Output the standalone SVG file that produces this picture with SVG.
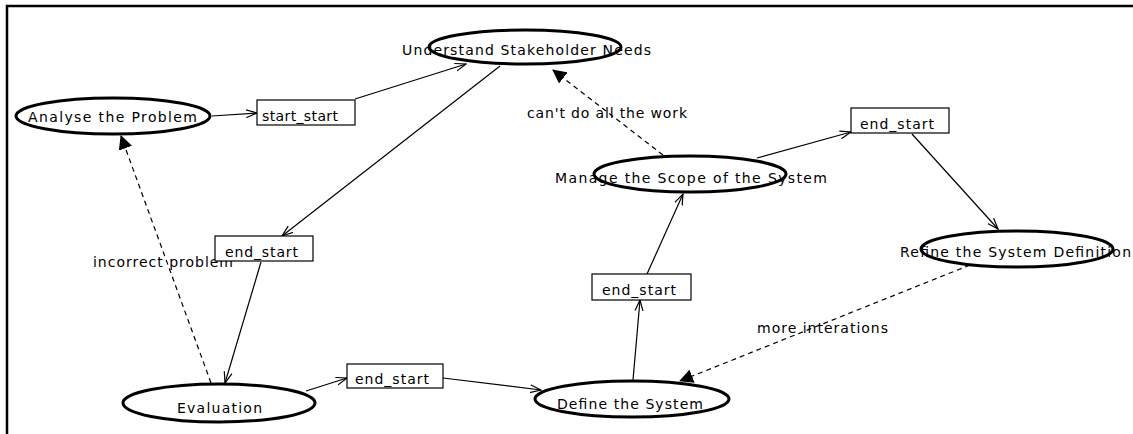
<svg xmlns="http://www.w3.org/2000/svg" width="1133" height="434" viewBox="0 0 1133 434">
  <style>
    text { font-family: "DejaVu Sans", "Liberation Sans", Arial, sans-serif; font-size: 14px; fill: #000; }
    .act { fill: #fff; stroke: #000; stroke-width: 3; }
    .box { fill: #fff; stroke: #000; stroke-width: 1.2; }
    .flow { fill: none; stroke: #000; stroke-width: 1.2; marker-end: url(#open); }
    .dep { fill: none; stroke: #000; stroke-width: 1.2; stroke-dasharray: 5 4; marker-end: url(#solid); }
  </style>
  <defs>
    <marker id="open" viewBox="0 0 12 10" refX="11" refY="5" markerWidth="12" markerHeight="10" markerUnits="userSpaceOnUse" orient="auto">
      <path d="M0,1 L11,5 L0,9" fill="none" stroke="#000" stroke-width="1.2"/>
    </marker>
    <marker id="solid" viewBox="0 0 14 14" refX="13" refY="7" markerWidth="14" markerHeight="14" markerUnits="userSpaceOnUse" orient="auto">
      <path d="M0,0 L14,7 L0,14 Z" fill="#000"/>
    </marker>
  </defs>

  <!-- frame -->
  <path d="M7,434 L7,6 L1133,6" fill="none" stroke="#000" stroke-width="2.5"/>

  <g id="connectors">
    <line class="flow" x1="212" y1="116" x2="257" y2="113"/>
    <line class="flow" x1="355" y1="99" x2="466" y2="64"/>
    <line class="flow" x1="500" y1="66" x2="282" y2="236"/>
    <line class="flow" x1="261" y1="262" x2="225" y2="383"/>
    <line class="flow" x1="306" y1="391" x2="347" y2="378"/>
    <line class="flow" x1="443" y1="378" x2="541" y2="390"/>
    <line class="flow" x1="633" y1="380" x2="640" y2="300"/>
    <line class="flow" x1="647" y1="274" x2="683" y2="194"/>
    <line class="flow" x1="757" y1="158" x2="851" y2="132"/>
    <line class="flow" x1="912" y1="134" x2="998" y2="229"/>

    <line class="dep" x1="663" y1="155" x2="553" y2="70"/>
    <line class="dep" x1="970" y1="265" x2="680" y2="381"/>
    <line class="dep" x1="211" y1="383" x2="121" y2="136"/>

    <text x="527" y="118" textLength="160" lengthAdjust="spacing">can't do all the work</text>
    <text x="757" y="333" textLength="131" lengthAdjust="spacing">more interations</text>
    <text x="93" y="267" textLength="140" lengthAdjust="spacing">incorrect problem</text>
  </g>

  <g id="analyse">
    <ellipse class="act" cx="113" cy="116" rx="97" ry="18"/>
    <text x="28" y="122" textLength="169" lengthAdjust="spacing">Analyse the Problem</text>
  </g>
  <g id="understand">
    <ellipse class="act" cx="525" cy="47" rx="96" ry="17"/>
    <text x="402" y="55" textLength="249" lengthAdjust="spacing">Understand Stakeholder Needs</text>
  </g>
  <g id="manage">
    <ellipse class="act" cx="690" cy="174" rx="96" ry="18"/>
    <text x="555" y="183" textLength="272" lengthAdjust="spacing">Manage the Scope of the System</text>
  </g>
  <g id="refine">
    <ellipse class="act" cx="1017" cy="249" rx="96" ry="18"/>
    <text x="900" y="257" textLength="231" lengthAdjust="spacing">Refine the System Definition</text>
  </g>
  <g id="evaluation">
    <ellipse class="act" cx="219" cy="403" rx="96" ry="19"/>
    <text x="177" y="413" textLength="85" lengthAdjust="spacing">Evaluation</text>
  </g>
  <g id="define">
    <ellipse class="act" cx="632" cy="399" rx="97" ry="18"/>
    <text x="557" y="409" textLength="146" lengthAdjust="spacing">Define the System</text>
  </g>

  <g id="join-start-start">
    <rect class="box" x="257" y="100" width="98" height="25"/>
    <text x="262" y="121" textLength="76" lengthAdjust="spacing">start_start</text>
  </g>
  <g id="join-end-start-1">
    <rect class="box" x="215" y="236" width="98" height="25"/>
    <text x="225" y="257" textLength="73" lengthAdjust="spacing">end_start</text>
  </g>
  <g id="join-end-start-2">
    <rect class="box" x="347" y="364" width="96" height="24"/>
    <text x="355" y="384" textLength="74" lengthAdjust="spacing">end_start</text>
  </g>
  <g id="join-end-start-3">
    <rect class="box" x="592" y="274" width="99" height="26"/>
    <text x="602" y="295" textLength="74" lengthAdjust="spacing">end_start</text>
  </g>
  <g id="join-end-start-4">
    <rect class="box" x="851" y="108" width="98" height="25"/>
    <text x="860" y="129" textLength="74" lengthAdjust="spacing">end_start</text>
  </g>
</svg>
